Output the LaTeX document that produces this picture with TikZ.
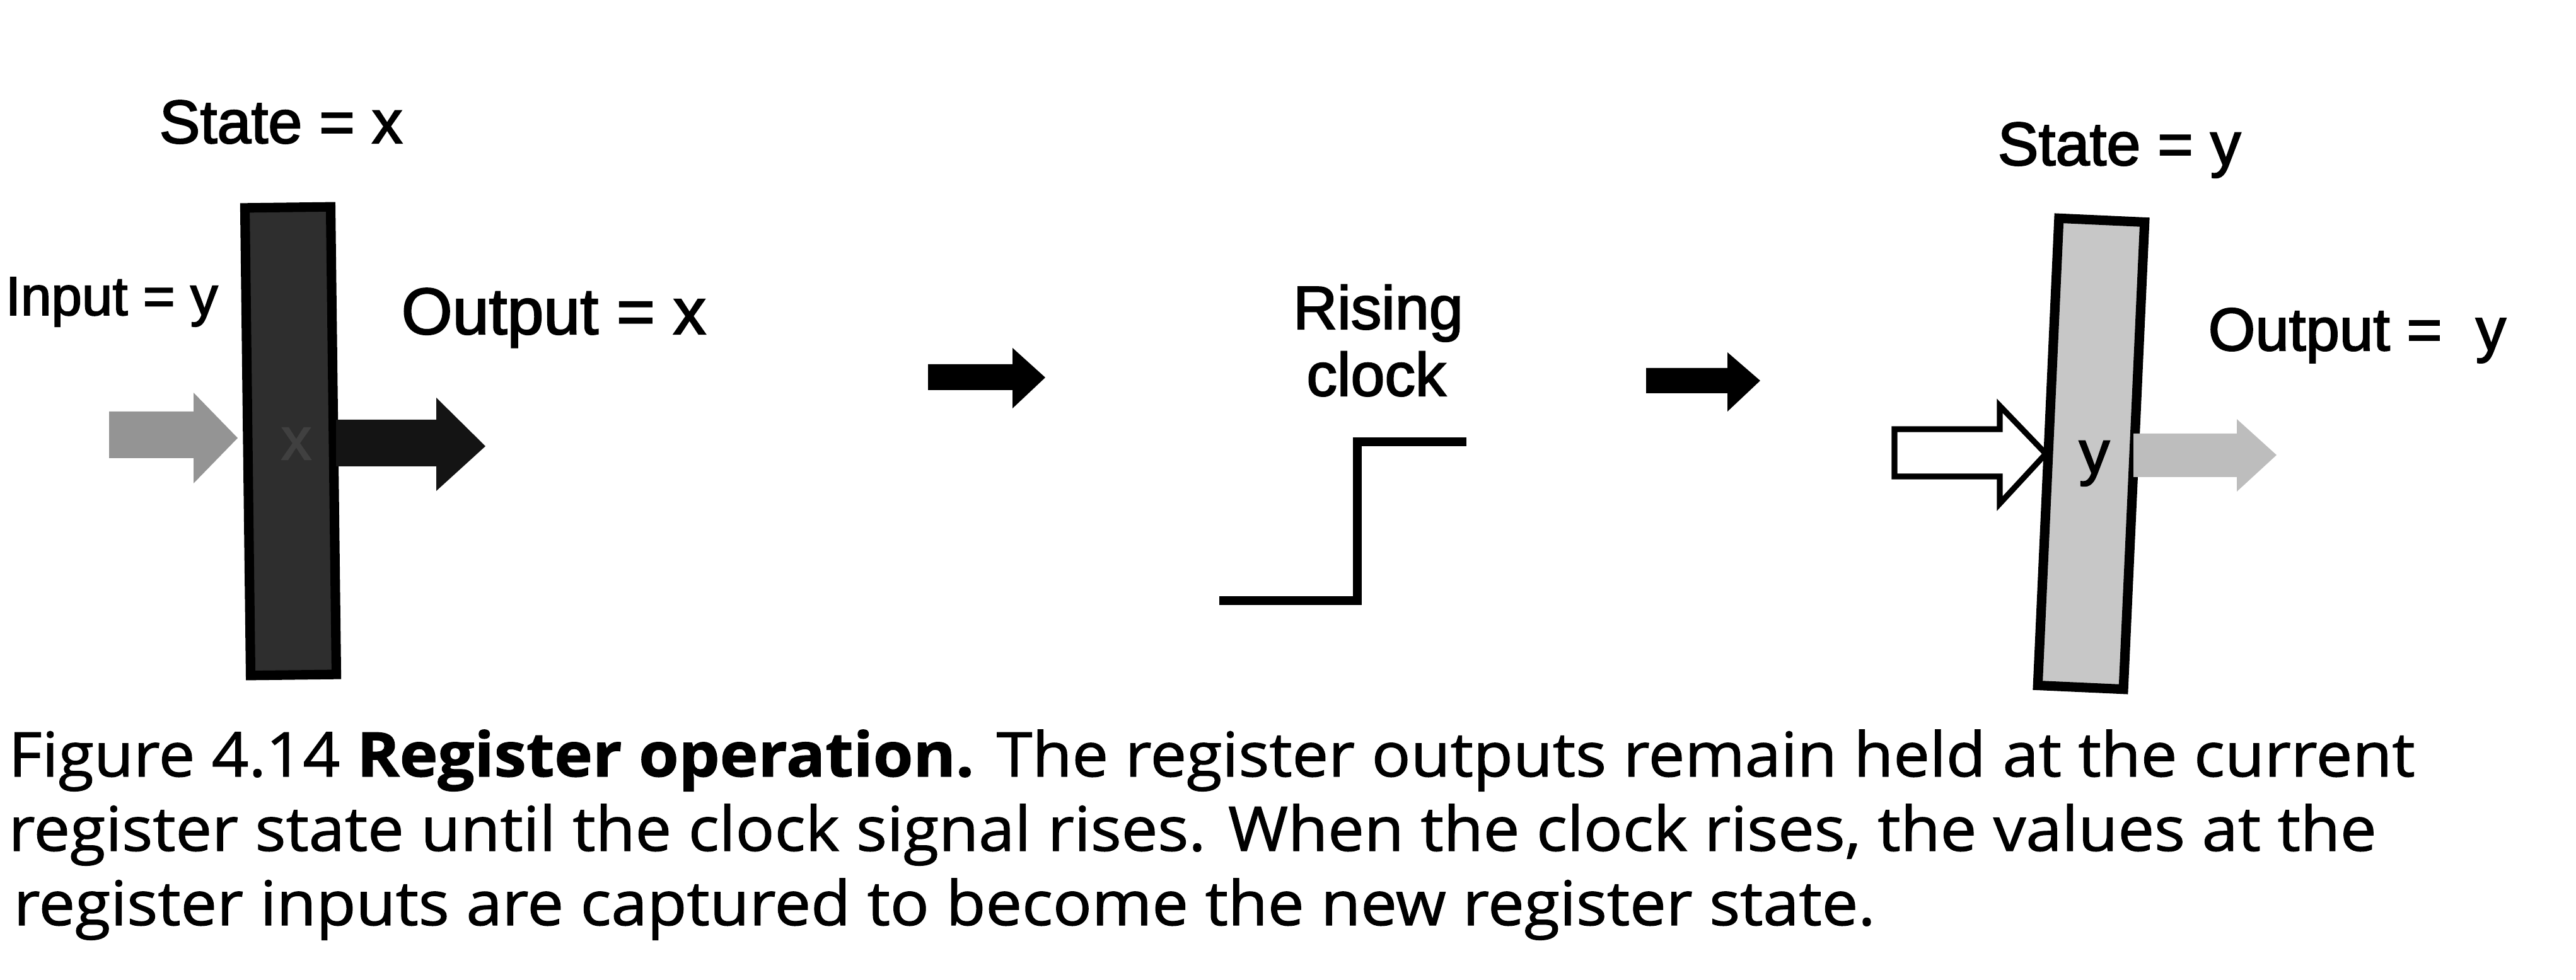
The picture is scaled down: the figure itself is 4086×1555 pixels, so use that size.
\documentclass[tikz,border=0pt]{standalone}
\usepackage{fontspec}
\setmainfont{Liberation Sans}[FakeBold=2.2]
\newfontfamily\capfont{Open Sans}[FakeBold=1.2,FakeStretch=1.05]
\newcommand\sizept[1]{\fontsize{#1}{#1}\selectfont}
\definecolor{barDark}{gray}{0.18}
\definecolor{barLight}{gray}{0.78}
\definecolor{inGray}{gray}{0.58}
\definecolor{outGray}{gray}{0.74}
\definecolor{xGray}{gray}{0.25}
\begin{document}
\begin{tikzpicture}[x=0.01cm,y=-0.01cm,
  lab/.style={anchor=base west,inner sep=0pt},
  regbar/.style={draw=black,line width=4.3pt,inner sep=0pt,minimum width=136*0.01cm,minimum height=742*0.01cm},
  blockarrow/.style={line join=miter},
  captext/.style={anchor=base west,inner sep=0pt,font=\capfont\sizept{27.8pt}}]
\useasboundingbox (0,0) rectangle (4086,1555);

% ---------- left register (state x)
\node[regbar,fill=barDark,rotate=0.7] (regA) at (461,700) {};
\node[text=xGray,font=\sizept{27pt}] (xin) at (470,704) {x};
\node[lab,font=\sizept{27.6pt}] (stateA) at (252,227) {State = x};
\node[lab,font=\sizept{24.8pt}] (inA) at (8,500) {Input = y};
\node[lab,font=\sizept{29.6pt}] (outA) at (636,530) {Output = x};

% gray input arrow
\fill[inGray,blockarrow] (173,653) -- (307,653) -- (307,623) -- (377,695) -- (307,767) -- (307,727) -- (173,727) -- cycle;
% black output arrow
\fill[black!92,blockarrow] (533,666) -- (692,666) -- (692,631) -- (770,708) -- (692,779) -- (692,740) -- (533,740) -- cycle;

% ---------- transition arrows
\fill[black,blockarrow] (1472,578) -- (1606,578) -- (1606,552) -- (1658,599) -- (1606,648) -- (1606,619) -- (1472,619) -- cycle;
\fill[black,blockarrow] (2611,584) -- (2740,584) -- (2740,559) -- (2792,604) -- (2740,653) -- (2740,624) -- (2611,624) -- cycle;

% ---------- rising clock
\node[anchor=base,inner sep=0pt,font=\sizept{27.6pt}] (rise1) at (2186,522) {Rising};
\node[anchor=base,inner sep=0pt,font=\sizept{27.6pt}] (rise2) at (2183,628) {clock};
\coordinate (lowL) at (1934,953);
\coordinate (edgeB) at (2153,953);
\coordinate (edgeT) at (2153,701);
\coordinate (highR) at (2326,701);
\draw[line width=4pt,line join=miter] (lowL) -- (edgeB) -- (edgeT) -- (highR);

% ---------- right register (state y)
\node[regbar,fill=barLight,rotate=-2.6] (regB) at (3317,720) {};
\node[anchor=base west,inner sep=0pt,font=\sizept{27.6pt}] (yin) at (3297,751) {y};
\node[lab,font=\sizept{27.6pt}] (stateB) at (3168,262) {State = y};
\node[lab,font=\sizept{27.3pt}] (outB) at (3502,556) {Output =\ \ y};

% white input arrow
\draw[line width=2.6pt,fill=white,blockarrow] (3005,681) -- (3172,681) -- (3172,644) -- (3245,720) -- (3172,799) -- (3172,756) -- (3005,756) -- cycle;
% light gray output arrow
\fill[outGray,blockarrow] (3384,688) -- (3548,688) -- (3548,665) -- (3611,722) -- (3548,780) -- (3548,757) -- (3384,757) -- cycle;

% ---------- caption
\node[captext] (cap1) at (13,1232) {Figure 4.14 \textbf{Register operation.} The register outputs remain held at the current};
\node[captext] (cap2) at (13,1350) {register state until the clock signal rises. When the clock rises, the values at the};
\node[captext] (cap3) at (21,1468) {register inputs are captured to become the new register state.};
\end{tikzpicture}
\end{document}
